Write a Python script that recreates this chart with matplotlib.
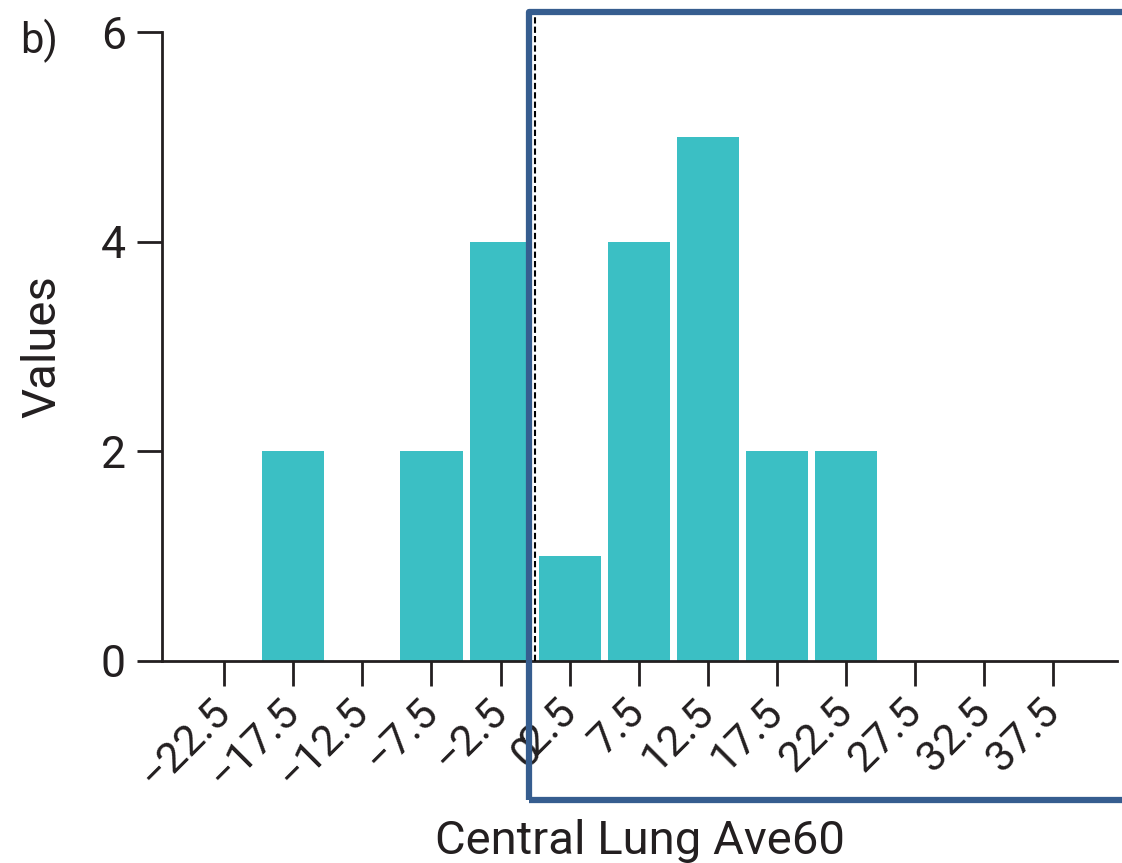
import matplotlib
matplotlib.use('Agg')
import matplotlib.pyplot as plt
from matplotlib.patches import Rectangle

# histogram bins (centres) and counts
bin_centers = [-22.5, -17.5, -12.5, -7.5, -2.5, 2.5, 7.5, 12.5, 17.5, 22.5, 27.5, 32.5, 37.5]
counts = [0, 2, 0, 2, 4, 1, 4, 5, 2, 2, 0, 0, 0]
tick_labels = ['\u221222.5', '\u221217.5', '\u221212.5', '\u22127.5', '\u22122.5',
               '2.5', '7.5', '12.5', '17.5', '22.5', '27.5', '32.5', '37.5']
y_ticks = [0, 2, 4, 6]

TEXT = '#231F20'
BAR = '#3BBFC4'
BOX = '#365D8F'

plt.rcParams['font.family'] = ['Roboto', 'DejaVu Sans']

fig = plt.figure(figsize=(11.22, 8.63), dpi=100)
ax = fig.add_axes([0.1444, 0.2341, 0.8511, 0.7288])

ax.bar(bin_centers, counts, width=4.5, color=BAR, zorder=2)

ax.set_xlim(-27.0, 42.1)
ax.set_ylim(0, 6)

ax.set_xticks(bin_centers)
ax.set_xticklabels(tick_labels, rotation=45, ha='right', va='center',
                   rotation_mode='anchor', fontsize=31, color=TEXT)
# the "0" label at the threshold line (no tick mark)
ax.set_xticks([0], minor=True)
ax.set_xticklabels(['0'], minor=True, rotation=45, ha='right', va='center',
                   rotation_mode='anchor', fontsize=31, color=TEXT)
ax.tick_params(axis='x', which='minor', length=0, pad=60)
ax.tick_params(axis='x', which='major', length=18, width=2, color=TEXT, pad=14)

ax.set_yticks(y_ticks)
ax.set_yticklabels([str(v) for v in y_ticks], fontsize=32, color=TEXT)
ax.tick_params(axis='y', length=18, width=2, color=TEXT, pad=8)

for side in ['top', 'right']:
    ax.spines[side].set_visible(False)
for side in ['left', 'bottom']:
    ax.spines[side].set_linewidth(2)
    ax.spines[side].set_color(TEXT)

ax.set_ylabel('Values', fontsize=34, color=TEXT, labelpad=26)
ax.set_xlabel('Central Lung Ave60', fontsize=34, color=TEXT, labelpad=16)

# threshold line at 0
ax.plot([0, 0], [0, 6.19], color='black', linestyle=(0, (3, 1.5)),
        linewidth=1.5, clip_on=False, zorder=3)

# highlight box
box = Rectangle((0.4715, 0.073), 0.56, 0.913, transform=fig.transFigure,
                fill=False, edgecolor=BOX, linewidth=4.5, joinstyle='round',
                clip_on=False, zorder=10)
fig.patches.append(box)

fig.text(0.018, 0.953, 'b)', fontsize=30, color=TEXT, va='center')

fig.savefig('out.png', dpi=100, facecolor='white')
